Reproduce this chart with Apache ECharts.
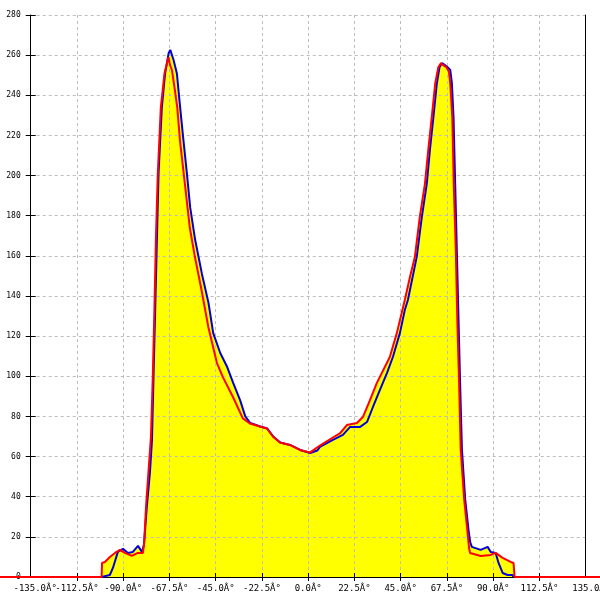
<!DOCTYPE html>
<html><head><meta charset="utf-8">
<script src="https://cdn.jsdelivr.net/npm/echarts@6/dist/echarts.min.js"></script>
<style>html,body{margin:0;padding:0;background:#fff}#c{width:600px;height:600px}</style>
</head><body><div id="c"></div>
<script>
// ---- data ----
const blueAngles = [-100.5,-96.5,-95.0,-92.6,-90.1,-87.7,-85.3,-82.8,-80.9,-79.9,-78.5,-77.0,-76.0,-75.2,-74.4,-73.6,-72.8,-71.2,-69.6,-67.9,-67.1,-65.5,-63.9,-62.3,-60.7,-59.0,-57.4,-55.0,-51.7,-48.5,-46.2,-42.8,-39.4,-36.5,-33.1,-30.6,-28.2,-23.3,-19.9,-17.0,-13.6,-8.8,-3.9,1.0,4.4,5.7,12.0,16.9,20.3,25.1,28.6,31.5,34.9,38.3,41.2,44.6,47.0,48.5,49.5,52.8,55.3,57.7,59.2,60.9,62.6,63.9,65.0,66.6,67.8,69.1,69.9,70.7,71.5,72.3,73.1,73.9,74.8,76.4,78.0,78.8,79.6,80.5,83.9,87.3,88.8,91.2,92.6,94.6,97.0,99.4,99.9];
const blueValues = [0,1,4.5,12.5,14,12,12.5,15.5,12.5,16,35,52,68,101.6,134.5,168,201,234,251,261,262.6,257.6,251,234,217.7,201,184,168,151,136.5,121.5,111.6,104.6,96.7,88,80,76.7,75,74,70,67,65.8,63.3,61.8,63,64.8,68.3,70.8,74.7,74.7,77.2,84.7,93.2,101.6,109.6,121.5,133,138,143,159.5,179.5,196,212.7,229,246,254,256,255,254,252.6,246,229,196,163,129.5,96.7,63.3,38.4,23.4,17.4,15,14.5,13.5,15,12.5,12,7,2,1,1,0];
const redAngles = [-150,-100.5,-100.3,-98.9,-96.5,-94.0,-91.6,-89.2,-85.8,-82.9,-80.4,-79.8,-78.9,-76.5,-75.6,-74.8,-74.1,-73.2,-71.7,-69.9,-68.0,-67.2,-66.3,-65.2,-63.7,-62.4,-60.0,-57.6,-55.1,-51.9,-48.6,-44.4,-41.5,-36.6,-31.8,-28.4,-23.5,-20.1,-17.2,-13.8,-8.9,-4.0,0.8,5.7,12.0,15.4,18.8,23.7,26.6,30.0,33.4,39.7,43.1,47.0,49.5,51.9,54.3,56.8,58.4,60.1,61.8,63.3,64.6,65.7,67.2,68.4,69.1,70.1,70.8,71.8,72.5,73.4,74.2,75.9,77.4,78.3,78.8,83.9,88.8,91.2,94.6,98.5,99.9,100.4,142];
const redValues = [0,0,7,7.5,10,12,13.5,12,10.5,12,12,17,35,70,100,134,168,200,234,251,259,255,252.6,245,234,217.7,196,174,159.4,143,124.6,106.6,99.6,89.7,79,76.5,75,74,70,67,65.8,63.3,62,65.5,69.5,71.5,75.7,76.7,79.7,88,96.7,109.6,121.5,138,149.5,159.5,179.5,196,212.7,229,246,254,256,255,254,252,246,229,196,163,129.5,96.7,63.3,38.4,23.4,14,12,10.5,11,12,9.5,7.5,7,0,0];
const xMin = -135, xMax = 135, xStep = 22.5;
const yMin = 0, yMax = 280, yStep = 20;

// ---- layout ----
const L = 30.7, R = 14.3, T = 15, B = 23, W = 600;
const pxPerDeg = (W - L - R) / (xMax - xMin);
const fullMin = xMin - L / pxPerDeg;
const fullMax = xMin + (W - L) / pxPerDeg;

const zip = (a, b) => a.map((v, i) => [v, b[i]]);
const blue = zip(blueAngles, blueValues);
const red = zip(redAngles, redValues);

const font = 'DejaVu Sans Mono';
const fmt = v => v.toFixed(1) + 'Â°';
const isEnd = v => v === xMin || v === xMax;
const grid = { color: '#bdbdbd', type: [3, 3], width: 1 };
const chart = echarts.init(document.getElementById('c'), null, { renderer: 'canvas' });
chart.setOption({
  animation: false,
  backgroundColor: '#fff',
  grid: [
    { left: L, right: R, top: T, bottom: B, containLabel: false, outerBoundsMode: 'none' },
    { left: 0, right: 0, top: T, bottom: B, containLabel: false, outerBoundsMode: 'none' }
  ],
  xAxis: [
    { gridIndex: 0, type: 'value', min: xMin, max: xMax, interval: xStep, position: 'bottom', z: 3,
      axisLine: { show: true, onZero: false, lineStyle: { color: '#000', width: 1 } },
      axisTick: { show: true, length: 4, lineStyle: { color: '#000' } },
      splitLine: { show: true, lineStyle: grid },
      axisLabel: { margin: 7, color: '#000', fontFamily: font, fontSize: 9, hideOverlap: false,
        showMinLabel: false, showMaxLabel: false,
        formatter: v => isEnd(v) ? '' : fmt(v) } },
    { gridIndex: 0, type: 'value', min: xMin, max: xMax, interval: xStep, position: 'bottom', offset: 0, z: 3,
      axisLine: { show: false, onZero: false }, splitLine: { show: false },
      axisTick: { show: true, inside: true, length: 4, lineStyle: { color: '#000' } },
      axisLabel: { margin: 7, color: '#000', fontFamily: font, fontSize: 9, hideOverlap: false,
        showMinLabel: true, showMaxLabel: true,
        formatter: v => v === xMin ? '{a|' + fmt(v) + '}' : (v === xMax ? '{b|' + fmt(v) + '}' : ''),
        rich: { a: { padding: [0, 0, 0, 9], fontFamily: font, fontSize: 9, color: '#000' },
                b: { padding: [0, 0, 0, 11], fontFamily: font, fontSize: 9, color: '#000' } } } },
    { gridIndex: 1, type: 'value', min: fullMin, max: fullMax, show: false }
  ],
  yAxis: [
    { gridIndex: 0, type: 'value', min: yMin, max: yMax, interval: yStep, position: 'left', z: 3,
      axisLine: { show: true, onZero: false, lineStyle: { color: '#000', width: 1 } },
      axisTick: { show: true, length: 5, lineStyle: { color: '#000' } },
      splitLine: { show: true, lineStyle: grid },
      axisLabel: { margin: 10, color: '#000', fontFamily: font, fontSize: 8, showMinLabel: true, showMaxLabel: true } },
    { gridIndex: 0, type: 'value', min: yMin, max: yMax, interval: yStep, position: 'left', offset: 0, z: 3,
      axisLine: { show: false, onZero: false }, axisLabel: { show: false }, splitLine: { show: false },
      axisTick: { show: true, inside: true, length: 5, lineStyle: { color: '#000' } } },
    { gridIndex: 0, type: 'value', min: yMin, max: yMax, interval: yStep, position: 'right', offset: 0, z: 3,
      axisLine: { show: true, onZero: false, lineStyle: { color: '#000', width: 1 } },
      axisTick: { show: false }, axisLabel: { show: false }, splitLine: { show: false } },
    { gridIndex: 1, type: 'value', min: yMin, max: yMax, show: false }
  ],
  series: [
    { type: 'line', xAxisIndex: 2, yAxisIndex: 3, data: blue, showSymbol: false, z: 1,
      lineStyle: { width: 0 }, areaStyle: { color: '#ffff00', opacity: 1 }, silent: true },
    { type: 'line', xAxisIndex: 2, yAxisIndex: 3, data: red, showSymbol: false, z: 1,
      lineStyle: { width: 0 }, areaStyle: { color: '#ffff00', opacity: 1 }, silent: true },
    { type: 'line', xAxisIndex: 2, yAxisIndex: 3, data: blue, showSymbol: false, z: 5,
      lineStyle: { width: 2, color: '#0000dd' } },
    { type: 'line', xAxisIndex: 2, yAxisIndex: 3, data: red, showSymbol: false, z: 6,
      lineStyle: { width: 2, color: '#ff0000' } }
  ]
});
</script></body></html>
